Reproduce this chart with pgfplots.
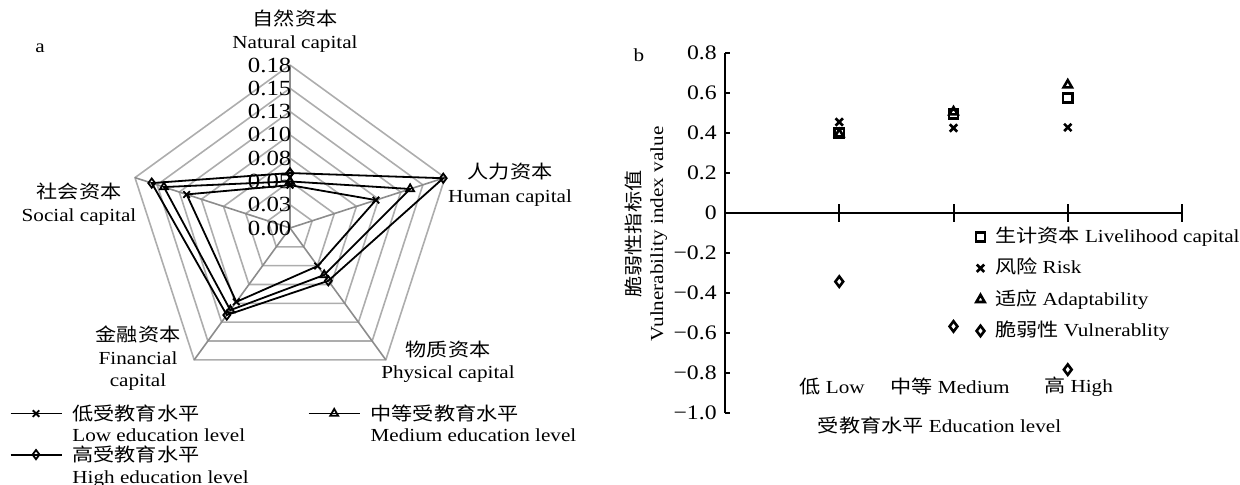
\documentclass[border=0pt]{standalone}
\usepackage{fontspec}
\setmainfont{Liberation Serif}[FakeStretch=1.15]
\newfontfamily\cjk{Noto Sans CJK SC}[FakeStretch=1.15]
\usepackage{pgfplots}
\pgfplotsset{compat=1.18}
\newcommand\ff{\fontsize{9.2}{11.2}\selectfont}
\newcommand\lf{\fontsize{9.2}{11.2}\selectfont}
\newcommand\tf{\fontsize{10.8}{12}\selectfont}
\definecolor{ringgray}{gray}{0.68}
\definecolor{spokegray}{gray}{0.55}

\begin{document}
\begin{tikzpicture}[font=\ff]
\useasboundingbox (0pt,0pt) rectangle (620pt,242pt);

% ---------------- panel a : radar ----------------
\begin{axis}[
  at={(145pt,128pt)}, anchor=center,
  width=186.28pt, height=186.28pt, scale only axis,
  xmin=-0.2, xmax=0.2, ymin=-0.2, ymax=0.2,
  hide axis, clip=false,
  legend columns=2,
  legend style={draw=none, fill=none, at={(-0.2526,0.0251)}, anchor=north west,
    inner sep=0pt, outer sep=0pt, font=\ff, cells={anchor=base west}, row sep=11.25pt,
    nodes={inner sep=0pt},
    /tikz/every odd column/.style={column sep=5pt},
    /tikz/every even column/.style={column sep=7.7pt}},
  legend image code/.code={\draw[#1, line width=0.9pt, mark repeat=2, mark phase=2, yshift=3.5pt]
     plot coordinates {(0pt,0pt) (12.75pt,0pt) (25.5pt,0pt)};},
]
% rings
\addplot[ringgray, line width=0.8pt, forget plot, data cs=polar] coordinates {(90,0.025)(18,0.025)(-54,0.025)(-126,0.025)(162,0.025)(90,0.025)};
\addplot[ringgray, line width=0.8pt, forget plot, data cs=polar] coordinates {(90,0.05)(18,0.05)(-54,0.05)(-126,0.05)(162,0.05)(90,0.05)};
\addplot[ringgray, line width=0.8pt, forget plot, data cs=polar] coordinates {(90,0.075)(18,0.075)(-54,0.075)(-126,0.075)(162,0.075)(90,0.075)};
\addplot[ringgray, line width=0.8pt, forget plot, data cs=polar] coordinates {(90,0.1)(18,0.1)(-54,0.1)(-126,0.1)(162,0.1)(90,0.1)};
\addplot[ringgray, line width=0.8pt, forget plot, data cs=polar] coordinates {(90,0.125)(18,0.125)(-54,0.125)(-126,0.125)(162,0.125)(90,0.125)};
\addplot[ringgray, line width=0.8pt, forget plot, data cs=polar] coordinates {(90,0.15)(18,0.15)(-54,0.15)(-126,0.15)(162,0.15)(90,0.15)};
\addplot[ringgray, line width=0.8pt, forget plot, data cs=polar] coordinates {(90,0.175)(18,0.175)(-54,0.175)(-126,0.175)(162,0.175)(90,0.175)};
% spokes
\addplot[spokegray, line width=0.8pt, forget plot, data cs=polar] coordinates {(90,0)(90,0.175)};
\addplot[spokegray, line width=0.8pt, forget plot, data cs=polar] coordinates {(18,0)(18,0.175)};
\addplot[spokegray, line width=0.8pt, forget plot, data cs=polar] coordinates {(-54,0)(-54,0.175)};
\addplot[spokegray, line width=0.8pt, forget plot, data cs=polar] coordinates {(-126,0)(-126,0.175)};
\addplot[spokegray, line width=0.8pt, forget plot, data cs=polar] coordinates {(162,0)(162,0.175)};
% ring labels
\node[font=\tf, anchor=east, inner sep=0pt, xshift=0.9pt] at (axis cs:0,0) {0.00};
\node[font=\tf, anchor=east, inner sep=0pt, xshift=0.9pt] at (axis cs:0,0.025) {0.03};
\node[font=\tf, anchor=east, inner sep=0pt, xshift=0.9pt] at (axis cs:0,0.05) {0.05};
\node[font=\tf, anchor=east, inner sep=0pt, xshift=0.9pt] at (axis cs:0,0.075) {0.08};
\node[font=\tf, anchor=east, inner sep=0pt, xshift=0.9pt] at (axis cs:0,0.1) {0.10};
\node[font=\tf, anchor=east, inner sep=0pt, xshift=0.9pt] at (axis cs:0,0.125) {0.13};
\node[font=\tf, anchor=east, inner sep=0pt, xshift=0.9pt] at (axis cs:0,0.15) {0.15};
\node[font=\tf, anchor=east, inner sep=0pt, xshift=0.9pt] at (axis cs:0,0.175) {0.18};
% series: Natural(90) Human(18) Physical(-54) Financial(-126) Social(162)
\addplot[black, line width=0.9pt, mark=x, mark size=2.3pt, data cs=polar]
  coordinates {(90,0.046)(18,0.097)(-54,0.0505)(-126,0.098)(162,0.1167)(90,0.046)};
\addlegendentry{\parbox[t]{110pt}{\lf{\cjk 低受教育水平}\\[-0.5pt]Low education level}}
\addplot[black, line width=0.9pt, mark=triangle, mark size=2.3pt, data cs=polar]
  coordinates {(90,0.050)(18,0.1356)(-54,0.0624)(-126,0.109)(162,0.1423)(90,0.050)};
\addlegendentry{\parbox[t]{110pt}{\lf{\cjk 中等受教育水平}\\[-0.5pt]Medium education level}}
\addplot[black, line width=0.9pt, mark=diamond, mark size=2.3pt, data cs=polar]
  coordinates {(90,0.059)(18,0.173)(-54,0.070)(-126,0.1155)(162,0.1561)(90,0.059)};
\addlegendentry{\parbox[t]{110pt}{\lf{\cjk 高受教育水平}\\[-0.5pt]High education level}}
\end{axis}

\node[align=center] at (147.5pt,226.5pt) {{\cjk 自然资本}\\Natural capital};
\node[align=center] at (255pt,149.5pt) {{\cjk 人力资本}\\[1pt]Human capital};
\node[align=center] at (39.5pt,140pt) {{\cjk 社会资本}\\Social capital};
\node[align=center] at (69pt,62.75pt) {{\cjk 金融资本}\\Financial\\capital};
\node[align=center] at (224pt,61pt) {{\cjk 物质资本}\\Physical capital};
\node at (20pt,218pt) {a};

% ---------------- panel b : scatter ----------------
\begin{axis}[
  at={(362.5pt,35.5pt)}, anchor=south west,
  width=228.5pt, height=180pt, scale only axis,
  xmin=0, xmax=4, ymin=-1, ymax=0.8,
  axis x line=middle, axis y line=left,
  axis line style={-, line width=1pt, black},
  xtick=\empty,
  extra x ticks={1,2,3,4}, extra x tick labels={},
  extra x tick style={tick align=center, major tick length=8.85pt},
  ytick={-1,-0.8,-0.6,-0.4,-0.2,0,0.2,0.4,0.6,0.8},
  yticklabels={−1.0,−0.8,−0.6,−0.4,−0.2,0,0.2,0.4,0.6,0.8},
  ytick align=inside, major tick length=2.5pt,
  tick style={line width=1pt, black},
  hide obscured y ticks=false,
  yticklabel style={font=\fontsize{10.3}{12}\selectfont, inner sep=0pt, xshift=-4pt},
  clip=false,
  legend style={draw=none, fill=none, at={(0.549,0.518)}, anchor=north west,
    inner sep=0pt, outer sep=0pt, font=\ff, cells={anchor=west}, row sep=5.15pt,
    nodes={inner sep=0pt, text height=8pt, text depth=2.5pt},
    /tikz/every odd column/.style={column sep=5pt}},
  legend image code/.code={\draw[#1] plot coordinates {(2.5pt,0pt)};},
]
\addplot[only marks, mark=square, mark size=2.3pt, line width=1.3pt]
  coordinates {(1,0.40)(2,0.495)(3,0.575)};
\addlegendentry{{\cjk 生计资本} Livelihood capital}
\addplot[only marks, mark=x, mark size=2.6pt, line width=1.3pt]
  coordinates {(1,0.455)(2,0.425)(3,0.428)};
\addlegendentry{{\cjk 风险} Risk}
\addplot[only marks, mark=triangle, mark size=2.4pt, line width=1.3pt]
  coordinates {(1,0.395)(2,0.505)(3,0.64)};
\addlegendentry{{\cjk 适应} Adaptability}
\addplot[only marks, mark=diamond, mark size=2.6pt, line width=1.3pt]
  coordinates {(1,-0.343)(2,-0.567)(3,-0.783)};
\addlegendentry{{\cjk 脆弱性} Vulnerablity}
\end{axis}

\node at (416pt,48.65pt) {{\cjk 低} Low};
\node at (475pt,48.65pt) {{\cjk 中等} Medium};
\node at (539.25pt,48.65pt) {{\cjk 高} High};
\node at (469.75pt,29.5pt) {{\cjk 受教育水平} Education level};
\node[rotate=90, align=center] at (323pt,125pt) {{\cjk 脆弱性指标值}\\Vulnerability index value};
\node at (319.5pt,214.5pt) {b};
\end{tikzpicture}
\end{document}
